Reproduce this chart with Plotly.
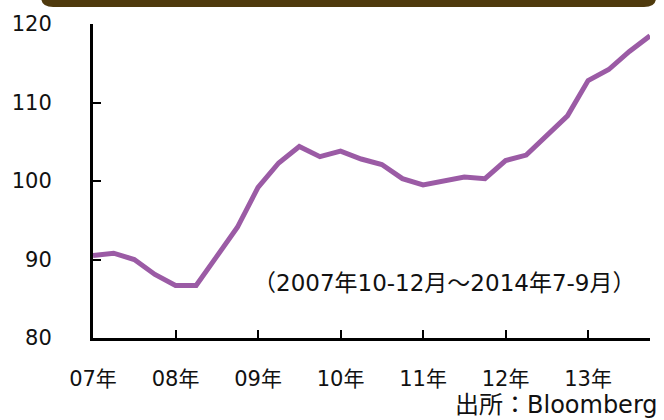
import plotly.graph_objects as go

quarters = list(range(28))  # 2007 Q4 .. 2014 Q3
values = [90.5, 90.8, 90.0, 88.1, 86.7, 86.7, 90.4, 94.1, 99.2, 102.3,
          104.4, 103.1, 103.8, 102.8, 102.1, 100.3, 99.5, 100.0, 100.5, 100.3,
          102.6, 103.3, 105.9, 108.3, 112.8, 114.2, 116.5, 118.5]
xtick_vals = [0, 4, 8, 12, 16, 20, 24]
xtick_text = ["07年", "08年", "09年", "10年", "11年", "12年", "13年"]
ytick_vals = [80, 90, 100, 110, 120]

FONT = "Verdana, DejaVu Sans, Noto Sans CJK JP"
W, H = 664, 420
L, R, T, B = 90, 14, 24, 82
pw, ph = W - L - R, H - T - B

def px(x):
    return (x - L) / pw

def py(y):
    return (H - B - y) / ph

fig = go.Figure()
fig.add_trace(go.Scatter(x=quarters, y=values, mode="lines",
                         line=dict(color="#9B5BA5", width=5),
                         hoverinfo="skip", showlegend=False))

# brown header bar (rounded bottom corners)
x0, x1 = px(38), px(656)
yt, yb = py(-6), py(7)
rx, ry = 12 / pw, 9 / ph
path = (f"M {x0},{yt} L {x0},{yb+ry} Q {x0},{yb} {x0+rx},{yb} "
        f"L {x1-rx},{yb} Q {x1},{yb} {x1},{yb+ry} L {x1},{yt} Z")
fig.add_shape(type="path", path=path, xref="paper", yref="paper",
              fillcolor="#4F3A0D", line=dict(width=0), layer="above")

fig.add_annotation(text="（2007年10-12月～2014年7-9月）", x=px(443), y=py(283),
                   xref="paper", yref="paper", xanchor="center", yanchor="middle",
                   showarrow=False,
                   font=dict(family=FONT, size=23, color="#111111"))
fig.add_annotation(text="出所：Bloomberg", x=px(452), y=py(405),
                   xref="paper", yref="paper", xanchor="left", yanchor="middle",
                   showarrow=False,
                   font=dict(family=FONT, size=24, color="#111111"))

fig.update_xaxes(range=[0, 27], tickvals=xtick_vals, ticktext=xtick_text,
                 ticks="inside", ticklen=8, tickwidth=1.5, tickcolor="#000",
                 showline=True, linecolor="#000", linewidth=3,
                 showgrid=False, zeroline=False, ticklabelstandoff=20,
                 tickfont=dict(family=FONT, size=21, color="#111"))
fig.update_yaxes(range=[80, 120], tickvals=ytick_vals,
                 ticks="inside", ticklen=8, tickwidth=1.5, tickcolor="#000",
                 showline=True, linecolor="#000", linewidth=3,
                 showgrid=False, zeroline=False, ticklabelstandoff=34,
                 tickfont=dict(family=FONT, size=21, color="#111"))
fig.update_layout(width=W, height=H, margin=dict(l=L, r=R, t=T, b=B),
                  paper_bgcolor="white", plot_bgcolor="white")
fig.write_html("out.html", config={"displayModeBar": False},
               post_script="document.body.style.margin='0';document.body.style.overflow='hidden';")
